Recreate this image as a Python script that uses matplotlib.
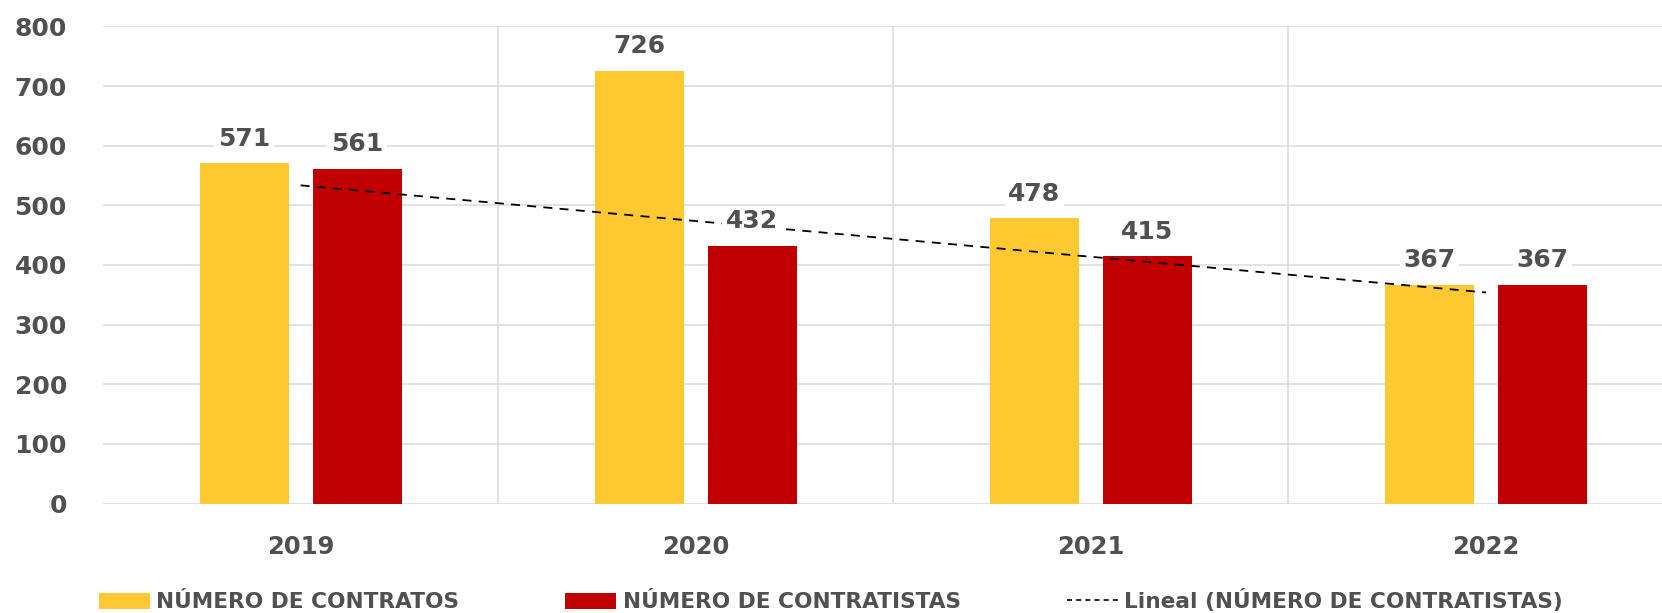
import matplotlib
matplotlib.use("Agg")
import matplotlib.pyplot as plt
import numpy as np
from matplotlib.patches import Patch
from matplotlib.lines import Line2D

# Data
years = ["2019", "2020", "2021", "2022"]
contratos = [571, 726, 478, 367]
contratistas = [561, 432, 415, 367]
yTicks = [0, 100, 200, 300, 400, 500, 600, 700, 800]

labelContratos = "NÚMERO DE CONTRATOS"
labelContratistas = "NÚMERO DE CONTRATISTAS"
labelTrend = "Lineal (NÚMERO DE CONTRATISTAS)"

yellow = "#FDC830"
red = "#C00000"
textGray = "#505050"
gridGray = "#DDDDDD"

plt.rcParams["font.family"] = ["DejaVu Sans"]
plt.rcParams["font.weight"] = "bold"

fig = plt.figure(figsize=(16.62, 6.13), dpi=100)
ax = fig.add_axes([0.062, 0.1786, 0.951, 0.7782])

x = np.arange(len(years))
barWidth = 0.225
offset = 0.143

bars1 = ax.bar(x - offset, contratos, barWidth, color=yellow, zorder=3)
bars2 = ax.bar(x + offset, contratistas, barWidth, color=red, zorder=3)

for bars, values in ((bars1, contratos), (bars2, contratistas)):
    for bar, value in zip(bars, values):
        ax.annotate(str(value), (bar.get_x() + bar.get_width() / 2, value),
                    xytext=(0, 9), textcoords="offset points",
                    ha="center", va="bottom", fontsize=18, fontweight="bold",
                    color=textGray, zorder=5,
                    bbox=dict(boxstyle="square,pad=0.15", fc="white", ec="none"))

# linear trendline of contratistas (Excel style)
coef = np.polyfit(x, contratistas, 1)
ax.plot(x, np.polyval(coef, x), color="black", linestyle=(0, (5, 4)),
        linewidth=1.3, zorder=4)

ax.set_xlim(-0.5, 3.5)
ax.set_ylim(0, 800)
ax.set_yticks(yTicks)
ax.set_xticks(x)
ax.set_xticklabels(years)
ax.tick_params(axis="y", length=0, labelsize=18, labelcolor=textGray, pad=26)
ax.tick_params(axis="x", length=0, labelsize=17.5, labelcolor=textGray, pad=23)
for lbl in ax.get_xticklabels() + ax.get_yticklabels():
    lbl.set_fontweight("bold")

ax.grid(axis="y", color=gridGray, linewidth=1.2, zorder=0)
for sep in x[:-1] + 0.5:
    ax.axvline(sep, color=gridGray, linewidth=1.2, zorder=0)
for spine in ax.spines.values():
    spine.set_visible(False)

handles = [
    Patch(facecolor=yellow, edgecolor="none"),
    Patch(facecolor=red, edgecolor="none"),
    Line2D([0], [0], color="black", linestyle=(0, (3, 2.5)), linewidth=1.2),
]
leg = fig.legend(handles, [labelContratos, labelContratistas, labelTrend],
                 loc="center", bbox_to_anchor=(0.5, 0.02), ncol=3, frameon=False,
                 fontsize=15.6, handlelength=2.35, handleheight=0.75,
                 columnspacing=4.9, handletextpad=0.3)
for t in leg.get_texts():
    t.set_color(textGray)
    t.set_fontweight("bold")

fig.savefig("out.png", dpi=100)
